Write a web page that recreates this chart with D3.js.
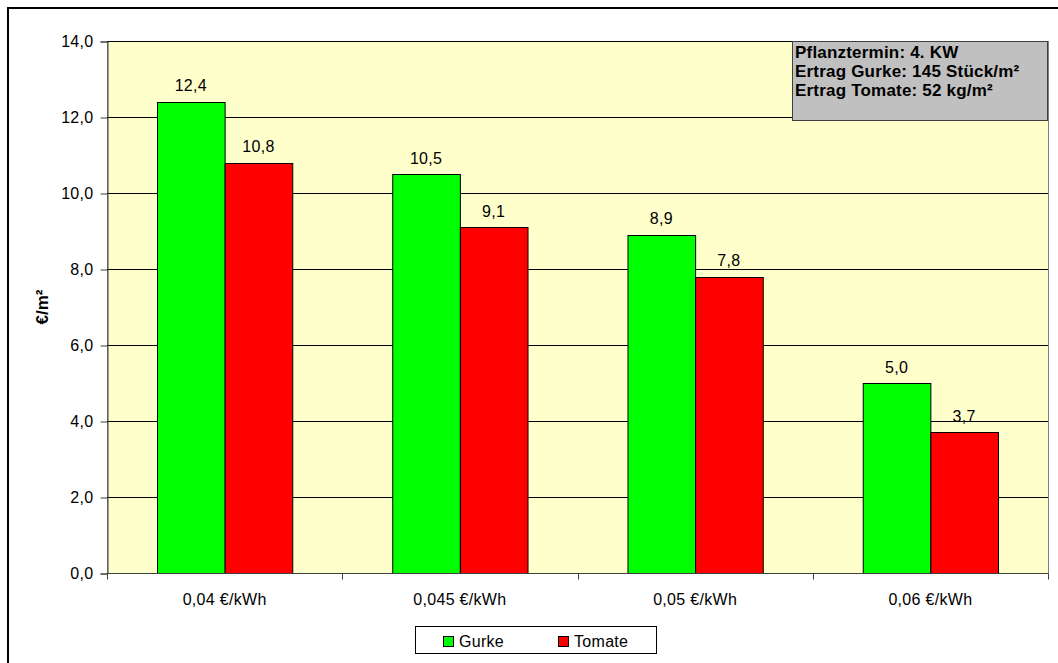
<!DOCTYPE html>
<html><head><meta charset="utf-8">
<script src="https://cdn.jsdelivr.net/npm/d3@7"></script>
<style>
html,body{margin:0;padding:0;background:#fff;}
svg{display:block;font-family:"Liberation Sans",Arial,sans-serif;}
</style></head>
<body>
<svg id="chart" width="1058" height="663"></svg>
<script>
const categories = ["0,04 €/kWh", "0,045 €/kWh", "0,05 €/kWh", "0,06 €/kWh"];
const seriesNames = ["Gurke", "Tomate"];
const gurke = [12.4, 10.5, 8.9, 5.0];
const tomate = [10.8, 9.1, 7.8, 3.7];
const yTicks = [0, 2, 4, 6, 8, 10, 12, 14];
const infoLines = ["Pflanztermin: 4. KW", "Ertrag Gurke: 145 Stück/m²", "Ertrag Tomate: 52 kg/m²"];
const yTitle = "€/m²";
const colors = ["#00FF00", "#FF0000"];

(function () {
const svg = d3.select("#chart");
const fmt = v => d3.format(".1f")(v).replace(".", ",");
const FS = 16, LS = "0.3px";

// outer frame
svg.append("rect").attr("x", 8).attr("y", 8).attr("width", 1060).attr("height", 670)
  .attr("fill", "none").attr("stroke", "#000").attr("stroke-width", 2);

const pL = 107, pR = 1048, pT = 41, pB = 573;
const x = d3.scaleBand().domain(categories).range([pL, pR]).paddingInner(0.425).paddingOuter(0.2125);
const xs = d3.scaleBand().domain(seriesNames).range([0, x.bandwidth()]);
const y = d3.scaleLinear().domain([0, 14]).range([pB, pT]);

// plot background
svg.append("rect").attr("x", pL + 0.5).attr("y", pT + 0.5).attr("width", pR - pL).attr("height", pB - pT)
  .attr("fill", "#FFFFCC").attr("stroke", "#808080").attr("stroke-width", 1);

// gridlines
svg.append("g").selectAll("line").data(yTicks.filter(d => d > 0)).join("line")
  .attr("x1", pL).attr("x2", pR)
  .attr("y1", d => Math.round(y(d)) + 0.5).attr("y2", d => Math.round(y(d)) + 0.5)
  .attr("stroke", "#000").attr("stroke-width", 1);

// bars
const data = categories.map((c, i) => ({c, vals: [gurke[i], tomate[i]]}));
const groups = svg.append("g").selectAll("g").data(data).join("g")
  .attr("transform", d => `translate(${x(d.c)},0)`);
groups.selectAll("rect").data(d => d.vals.map((v, j) => ({v, s: seriesNames[j], j}))).join("rect")
  .attr("x", d => xs(d.s) + 0.5).attr("width", xs.bandwidth())
  .attr("y", d => Math.round(y(d.v)) + 0.5).attr("height", d => Math.round(y(0)) - Math.round(y(d.v)))
  .attr("fill", d => colors[d.j]).attr("stroke", "#000").attr("stroke-width", 1);
groups.selectAll("text").data(d => d.vals.map((v, j) => ({v, s: seriesNames[j], j}))).join("text")
  .attr("x", d => xs(d.s) + xs.bandwidth() / 2).attr("y", d => y(d.v) - 10.5)
  .attr("text-anchor", "middle").attr("font-size", FS).attr("letter-spacing", LS).attr("fill", "#000")
  .text(d => fmt(d.v));

// y axis
const yAxis = d3.axisLeft(y).tickValues(yTicks).tickSize(7).tickPadding(7).tickFormat(fmt);
const gy = svg.append("g").attr("transform", `translate(${pL + 0.5},0.5)`).call(yAxis);
gy.select(".domain").attr("stroke", "#404040");
gy.selectAll(".tick line").attr("stroke", "#404040");
gy.selectAll("text").attr("font-size", FS).attr("letter-spacing", LS)
  .attr("font-family", "Liberation Sans, Arial, sans-serif").attr("fill", "#000");

// x axis
const xAxis = d3.axisBottom(x).tickSize(0).tickPadding(20);
const gx = svg.append("g").attr("transform", `translate(0,${Math.round(pB) + 0.5})`).call(xAxis);
gx.select(".domain").attr("stroke", "#404040").attr("d", `M${pL},0H${pR}`);
gx.selectAll("text").attr("font-size", FS).attr("letter-spacing", LS)
  .attr("font-family", "Liberation Sans, Arial, sans-serif").attr("fill", "#000");
const bounds = d3.range(categories.length + 1).map(i => pL + i * x.step());
gx.append("g").selectAll("line").data(bounds).join("line")
  .attr("x1", d => Math.round(d) + 0.5).attr("x2", d => Math.round(d) + 0.5)
  .attr("y1", 0).attr("y2", 6).attr("stroke", "#404040");

// y title
svg.append("text").attr("transform", `translate(48,${(pT + pB) / 2}) rotate(-90)`)
  .attr("text-anchor", "middle").attr("font-size", 17)
  .attr("font-weight", "bold").text(yTitle);

// info box
svg.append("rect").attr("x", 792.5).attr("y", 41.5).attr("width", 255).attr("height", 79)
  .attr("fill", "#C0C0C0").attr("stroke", "#404040").attr("stroke-width", 1);
svg.append("g").selectAll("text").data(infoLines).join("text")
  .attr("x", 795).attr("y", (d, i) => 57.5 + i * 19)
  .attr("font-size", 17).attr("letter-spacing", "0.2px")
  .attr("font-weight", "bold").attr("fill", "#000").text(d => d);

// legend
const lg = svg.append("g");
lg.append("rect").attr("x", 415.5).attr("y", 626.5).attr("width", 241).attr("height", 27)
  .attr("fill", "#fff").attr("stroke", "#000").attr("stroke-width", 1);
const legX = [443, 558];
seriesNames.forEach((s, i) => {
  lg.append("rect").attr("x", legX[i] + 0.5).attr("y", 636.5).attr("width", 10).attr("height", 10)
    .attr("fill", colors[i]).attr("stroke", "#000");
  lg.append("text").attr("x", legX[i] + 16).attr("y", 647).attr("font-size", FS)
    .attr("letter-spacing", LS).text(s);
});
})();
</script>
</body></html>
